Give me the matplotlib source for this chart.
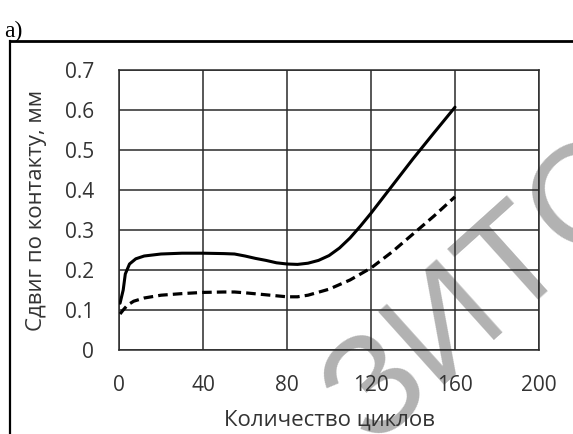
import matplotlib
matplotlib.use('Agg')
import matplotlib.pyplot as plt
from matplotlib.lines import Line2D

plt.rcParams['font.family'] = ['Open Sans', 'DejaVu Sans']

# данные
x_solid = [0.5, 2, 3, 5, 8, 12, 20, 30, 40, 50, 55, 60, 65, 70, 75, 80, 85, 90, 95,
           100, 105, 110, 115, 120, 130, 140, 150, 160]
y_solid = [0.117, 0.15, 0.19, 0.215, 0.228, 0.235, 0.24, 0.242, 0.242, 0.241, 0.24,
           0.235, 0.229, 0.224, 0.218, 0.215, 0.214, 0.217, 0.224, 0.236, 0.255, 0.28,
           0.31, 0.342, 0.41, 0.478, 0.543, 0.607]

x_dash = [0.5, 2, 4, 7, 12, 20, 30, 40, 50, 55, 60, 70, 80, 85, 90, 100, 110, 120,
          130, 140, 150, 160]
y_dash = [0.09, 0.1, 0.112, 0.122, 0.13, 0.137, 0.141, 0.144, 0.145, 0.145, 0.143,
          0.138, 0.133, 0.133, 0.137, 0.152, 0.175, 0.205, 0.245, 0.29, 0.335, 0.383]

x_ticks = [0, 40, 80, 120, 160, 200]
y_ticks = [0, 0.1, 0.2, 0.3, 0.4, 0.5, 0.6, 0.7]

fig = plt.figure(figsize=(5.73, 4.34), dpi=100)
ax = fig.add_axes([119 / 573, 84 / 434, 420 / 573, 280 / 434])
ax.patch.set_alpha(0)

ax.plot(x_solid, y_solid, color='black', lw=2.2, solid_capstyle='round', zorder=3)
ax.plot(x_dash, y_dash, color='black', lw=2.3, dashes=(3.0, 1.6), zorder=3)

ax.set_xlim(0, 200)
ax.set_ylim(0, 0.7)
ax.set_xticks(x_ticks)
ax.set_yticks(y_ticks)
ax.set_yticklabels(['0'] + ['%.1f' % v for v in y_ticks[1:]])
ax.grid(True, color='#2a2a2a', lw=1.1)
for s in ax.spines.values():
    s.set_color('#2a2a2a')
    s.set_linewidth(1.1)
ax.tick_params(length=0, labelsize=15, colors='#333333')
ax.tick_params(axis='x', pad=18)
ax.tick_params(axis='y', pad=18)
ax.set_xlabel('Количество циклов', fontsize=16, color='#333333', labelpad=10)
ax.set_ylabel('Сдвиг по контакту, мм', fontsize=16, color='#333333', labelpad=13)

# рамка
fig.add_artist(Line2D([10 / 573, 1], [1 - 41 / 434, 1 - 41 / 434], color='black', lw=2))
fig.add_artist(Line2D([10 / 573, 10 / 573], [0, 1 - 41 / 434], color='black', lw=1.6))
fig.text(4 / 573, 1 - 37 / 434, 'а)', family='Liberation Serif', fontsize=17)

# водяной знак
fig.text(372 / 573, 1 - 446 / 434, 'ЗИТС', fontsize=102, color='#b2b2b2',
         family='Liberation Sans', rotation=42, rotation_mode='anchor',
         ha='left', va='baseline', zorder=-1)

fig.savefig('out.png', dpi=100)
